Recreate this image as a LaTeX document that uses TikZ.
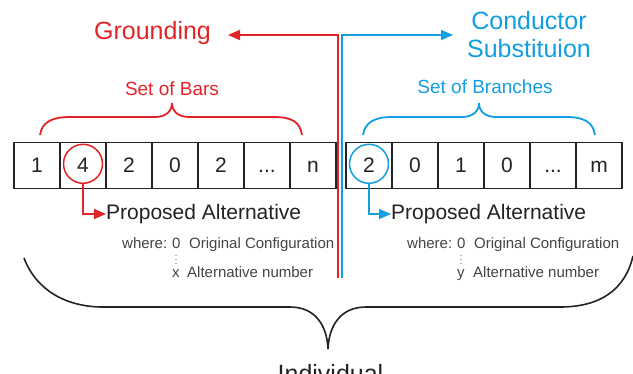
\documentclass[tikz,border=0pt]{standalone}
\usepackage{fontspec}
\setmainfont{Liberation Sans}
\usepackage{xcolor}
\definecolor{ground}{RGB}{226, 36, 40}
\definecolor{conduct}{RGB}{18, 158, 224}
\definecolor{ink}{RGB}{35, 35, 35}
\usetikzlibrary{positioning}
\usetikzlibrary{arrows.meta}

\begin{document}
\begin{tikzpicture}[x = 1pt, y = -1pt,
	cell/.style = {draw = ink, line width = 1.3pt, minimum width = 46pt, minimum height = 46pt, inner sep = 0pt, outer sep = 0pt, text height = 15pt, text depth = 0pt, text = ink, font = \fontsize{21}{25}\selectfont},
	pick/.style = {circle, draw = #1, line width = 1.5pt, minimum size = 39pt, inner sep = 0pt},
	link/.style = {#1, line width = 1.8pt, -{Triangle[length = 12pt, width = 10pt]}},
	curl/.style = {#1, line width = 1.8pt},
	title/.style = {inner sep = 0pt, font = \fontsize{25}{28}\selectfont},
	label/.style = {inner sep = 0pt, font = \fontsize{19}{22}\selectfont},
	note/.style = {inner sep = 0pt, text = ink, font = \fontsize{21}{25}\selectfont},
	small/.style = {inner sep = 0pt, text = ink!85, font = \fontsize{15}{18}\selectfont}
	]

	\fill [white] (0,0) rectangle (633,373);
	\useasboundingbox (0,0) rectangle (633,373);

	% set of bars
	\node [cell] (bar1) at (37,165.3) {1};
	\node [cell, right = 0pt of bar1] (bar2) {4};
	\node [cell, right = 0pt of bar2] (bar3) {2};
	\node [cell, right = 0pt of bar3] (bar4) {0};
	\node [cell, right = 0pt of bar4] (bar5) {2};
	\node [cell, right = 0pt of bar5] (bar6) {...};
	\node [cell, right = 0pt of bar6] (bar7) {n};

	% set of branches
	\node [cell] (branch1) at (369,165.3) {2};
	\node [cell, right = 0pt of branch1] (branch2) {0};
	\node [cell, right = 0pt of branch2] (branch3) {1};
	\node [cell, right = 0pt of branch3] (branch4) {0};
	\node [cell, right = 0pt of branch4] (branch5) {...};
	\node [cell, right = 0pt of branch5] (branch6) {m};

	\node [pick = ground] (pickbar) at ([yshift = 1.5pt] bar2) {};
	\node [pick = conduct] (pickbranch) at ([yshift = 1.5pt] branch1) {};

	% titles and the two arrows
	\node [title, text = ground, anchor = base] (grounding) at (152.5,39) {Grounding};
	\node [title, text = conduct, anchor = base, align = center] (conductor) at (529,57) {Conductor\\Substituion};

	\coordinate (groundfoot) at (338,278);
	\coordinate (groundtip) at (228,35);
	\coordinate (conductfoot) at (342,278);
	\coordinate (conducttip) at (453,35);

	\draw [link = ground] (groundfoot) |- (groundtip);
	\draw [link = conduct] (conductfoot) |- (conducttip);

	% braces
	\draw [curl = ground] (40,135) .. controls (42,122) and (52,117) .. (70,117) -- (155,117)
					.. controls (166,117) and (172,111) .. (172,103)
					.. controls (172,111) and (178,117) .. (189,117) -- (274,117)
					.. controls (292,117) and (300,122) .. (302,135);
	\node [label, text = ground, anchor = base] (bars) at (172,95) {Set of Bars};

	\draw [curl = conduct] (363,135) .. controls (365,122) and (375,117) .. (392,117) -- (462,117)
					.. controls (473,117) and (479,111) .. (479,103)
					.. controls (479,111) and (485,117) .. (496,117) -- (566,117)
					.. controls (584,117) and (593,122) .. (595,135);
	\node [label, text = conduct, anchor = base] (branches) at (485,93) {Set of Branches};

	\draw [curl = ink, line width = 1.6pt] (24,258) .. controls (36,290) and (66,307) .. (103,307) -- (290,307)
					.. controls (315,307) and (327,325) .. (328,349)
					.. controls (329,325) and (341,307) .. (366,307) -- (560,307)
					.. controls (600,307) and (625,290) .. (633,256);
	\node [title, text = ink, anchor = base] (individual) at (330.5,382) {Individual};

	% proposed alternatives
	\node [note, anchor = west] (proposebar) at (106,214) {Proposed Alternative};
	\node [note, anchor = west] (proposebranch) at (391,214) {Proposed Alternative};

	\draw [link = ground, line width = 1.5pt] (pickbar.south) |- (proposebar.west);
	\draw [link = conduct, line width = 1.5pt] (pickbranch.south) |- (proposebranch.west);

	\node [small, anchor = base west] (wherebar) at (122,248) {where:};
	\node [small, anchor = base west] (zerobar) at (172,248) {0};
	\node [small, anchor = base west] (origbar) at (189,248) {Original Configuration};
	\node [small, anchor = base, font = \fontsize{9}{10}\selectfont] (dotsbar) at (176,264) {$\vdots$};
	\node [small, anchor = base west] (lastbar) at (172,277) {x};
	\node [small, anchor = base west] (numbar) at (187,277) {Alternative number};

	\node [small, anchor = base west] (wherebranch) at (407,248) {where:};
	\node [small, anchor = base west] (zerobranch) at (457,248) {0};
	\node [small, anchor = base west] (origbranch) at (474,248) {Original Configuration};
	\node [small, anchor = base, font = \fontsize{9}{10}\selectfont] (dotsbranch) at (461,264) {$\vdots$};
	\node [small, anchor = base west] (lastbranch) at (457,277) {y};
	\node [small, anchor = base west] (numbranch) at (473,277) {Alternative number};

\end{tikzpicture}
\end{document}
